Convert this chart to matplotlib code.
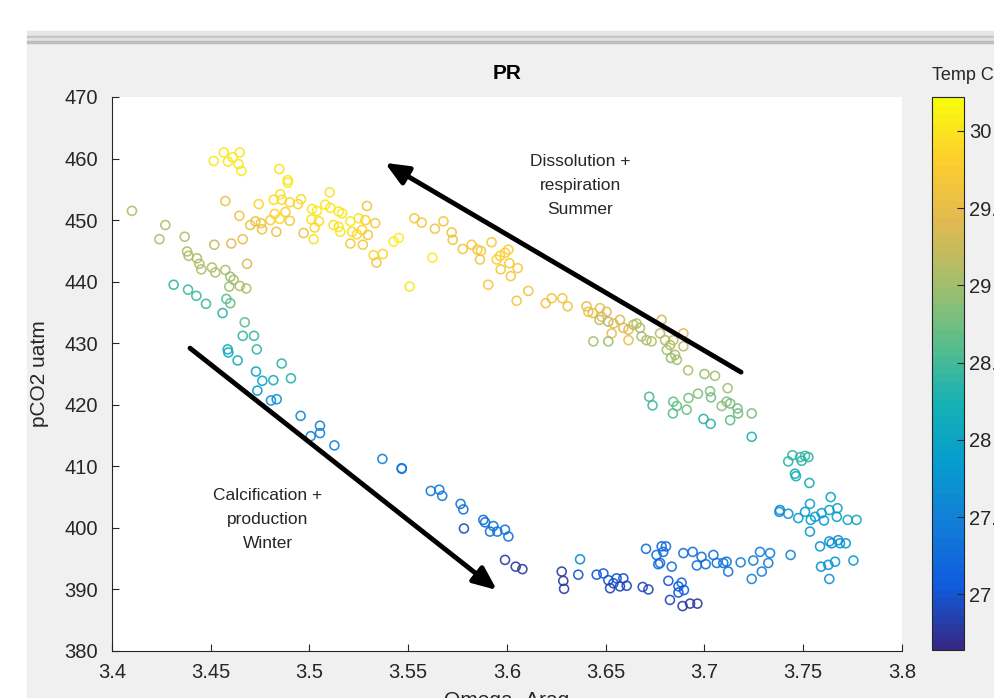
import numpy as np
import matplotlib
matplotlib.use("Agg")
import matplotlib.pyplot as plt
from matplotlib.colors import LinearSegmentedColormap, Normalize
from matplotlib.patches import Rectangle
import matplotlib.cm as cm

plt.rcParams['font.family'] = ['Liberation Sans', 'DejaVu Sans']

# ---- data (Omega-Arag, pCO2 uatm, Temp C) ----
# summer branch, upper left (yellow / orange)
omega_a = [3.4515, 3.4566, 3.4587, 3.4611, 3.4647, 3.4641, 3.4655, 3.4101, 3.4574, 3.4645,
           3.4743, 3.4847, 3.4890, 3.4890, 3.4819, 3.4852, 3.4860, 3.4900, 3.4942, 3.4957,
           3.4878, 3.4824, 3.4849, 3.4802, 3.4700, 3.4726, 3.4754, 3.4760, 3.4832, 3.4900,
           3.4970, 3.5021, 3.5013, 3.5038, 3.5010, 3.5026, 3.5047, 3.5080, 3.5102, 3.5105,
           3.5148, 3.5165, 3.5122, 3.5148, 3.5156, 3.5207, 3.5249, 3.5283, 3.5291, 3.5215,
           3.5240, 3.5266, 3.5296, 3.5333, 3.5207, 3.5270, 3.5325, 3.5371, 3.5339, 3.5426,
           3.5452, 3.5507]
pco2_a = [459.6, 461.0, 459.5, 460.2, 461.0, 459.1, 458.0, 451.5, 453.1, 450.7,
          452.6, 458.3, 456.5, 456.1, 453.3, 454.2, 453.3, 452.9, 452.6, 453.4,
          451.3, 451.0, 450.2, 450.0, 449.2, 449.8, 449.5, 448.5, 448.1, 449.9,
          447.9, 446.9, 451.8, 451.5, 450.1, 448.8, 449.8, 452.5, 454.5, 452.0,
          451.4, 451.1, 449.2, 448.9, 448.1, 449.8, 450.3, 450.0, 452.3, 448.1,
          447.7, 448.4, 447.6, 449.5, 446.2, 446.0, 444.3, 444.5, 443.1, 446.5,
          447.1, 439.2]
temp_a = [30.05, 30.05, 30.0, 30.05, 30.05, 30.0, 30.0, 29.1, 29.6, 29.6,
          29.85, 29.95, 30.0, 30.0, 29.9, 29.95, 29.9, 29.85, 29.85, 29.9,
          29.8, 29.85, 29.9, 29.8, 29.6, 29.6, 29.65, 29.6, 29.6, 29.7,
          29.6, 29.95, 30.0, 30.0, 29.95, 29.85, 29.9, 30.0, 29.95, 30.0,
          30.05, 30.05, 29.95, 30.0, 30.0, 30.0, 30.05, 29.8, 29.65, 29.9,
          29.9, 29.85, 29.7, 29.7, 29.7, 29.7, 29.85, 29.85, 29.65, 30.1,
          30.1, 30.0]

# left edge, olive -> teal -> blue -> purple (winter branch)
omega_b = [3.4270, 3.4240, 3.4368, 3.4518, 3.4604, 3.4662, 3.4684, 3.4380, 3.4388, 3.4430,
           3.4442, 3.4452, 3.4506, 3.4523, 3.4574, 3.4599, 3.4616, 3.4594, 3.4647, 3.4680,
           3.4312, 3.4385, 3.4427, 3.4476, 3.4579, 3.4599, 3.4560, 3.4672, 3.4662, 3.4719,
           3.4733, 3.4586, 3.4589, 3.4636, 3.4859, 3.4729, 3.4761, 3.4817, 3.4906, 3.4736,
           3.4805, 3.4834, 3.4955, 3.5053, 3.5053, 3.5006, 3.5126, 3.5369, 3.5467, 3.5467,
           3.5614, 3.5657, 3.5672, 3.5765, 3.5779, 3.5782, 3.5880, 3.5889, 3.5931, 3.5914,
           3.5951, 3.5990, 3.6007, 3.5990, 3.6044, 3.6078]
pco2_b = [449.2, 446.9, 447.3, 446.0, 446.2, 446.9, 442.9, 444.9, 444.2, 443.8,
          442.9, 442.0, 442.3, 441.5, 441.9, 440.8, 440.3, 439.2, 439.3, 438.9,
          439.5, 438.7, 437.7, 436.4, 437.2, 436.5, 434.9, 433.4, 431.2, 431.2,
          429.0, 429.0, 428.5, 427.2, 426.7, 425.4, 423.9, 424.0, 424.3, 422.3,
          420.7, 420.9, 418.2, 416.6, 415.4, 414.9, 413.4, 411.2, 409.7, 409.6,
          406.0, 406.2, 405.2, 403.9, 403.0, 399.9, 401.3, 400.9, 400.3, 399.4,
          399.4, 399.7, 398.6, 394.8, 393.7, 393.3]
temp_b = [29.1, 29.1, 29.15, 29.2, 29.4, 29.5, 29.35, 29.1, 29.1, 29.1,
          29.05, 29.1, 29.05, 29.05, 29.1, 28.95, 29.0, 28.95, 29.1, 29.1,
          28.4, 28.45, 28.45, 28.45, 28.65, 28.7, 28.35, 28.6, 28.4, 28.4,
          28.4, 28.1, 28.05, 28.1, 28.35, 27.95, 28.0, 28.1, 28.3, 27.8,
          27.7, 27.7, 27.55, 27.5, 27.5, 27.5, 27.5, 27.45, 27.4, 27.4,
          27.4, 27.4, 27.4, 27.35, 27.35, 26.9, 27.3, 27.3, 27.3, 27.3,
          27.35, 27.35, 27.35, 26.8, 26.8, 26.8]

# right descending chain, orange -> olive -> green
omega_c = [3.5531, 3.5568, 3.5635, 3.5678, 3.5720, 3.5725, 3.5622, 3.5776, 3.5821, 3.5850,
           3.5868, 3.5863, 3.5922, 3.5948, 3.5965, 3.5990, 3.6007, 3.5968, 3.6012, 3.6054,
           3.6019, 3.5905, 3.6108, 3.6049, 3.6196, 3.6226, 3.6280, 3.6307, 3.6403, 3.6412,
           3.6434, 3.6471, 3.6479, 3.6504, 3.6468, 3.6513, 3.6539, 3.6572, 3.6589, 3.6615,
           3.6640, 3.6656, 3.6673, 3.6681, 3.6706, 3.6732, 3.6530, 3.6615, 3.6437, 3.6513,
           3.6783, 3.6775, 3.6800, 3.6826, 3.6842, 3.6893, 3.6893, 3.6809, 3.6851, 3.6860,
           3.6830, 3.6917, 3.7000, 3.7053, 3.7117, 3.7112, 3.6720, 3.6737, 3.6842, 3.6860,
           3.6840, 3.6910, 3.6919, 3.6967, 3.7028, 3.7033, 3.6995, 3.7031, 3.7087, 3.7130,
           3.7130, 3.7167, 3.7170, 3.7239, 3.7239]
pco2_c = [450.3, 449.6, 448.6, 449.8, 448.0, 446.8, 443.9, 445.3, 446.0, 445.2,
          445.0, 443.6, 446.4, 443.6, 444.2, 444.7, 445.2, 442.0, 443.0, 442.2,
          440.9, 439.5, 438.5, 436.9, 436.5, 437.3, 437.3, 436.0, 436.0, 435.1,
          434.9, 435.7, 434.3, 435.1, 433.8, 433.5, 433.2, 433.8, 432.5, 432.2,
          433.0, 433.2, 432.5, 431.1, 430.5, 430.3, 431.6, 430.5, 430.3, 430.3,
          433.8, 431.6, 430.5, 429.7, 430.5, 431.6, 429.5, 428.9, 428.1, 427.3,
          427.6, 425.6, 425.0, 424.7, 422.7, 420.5, 421.3, 419.9, 420.5, 419.8,
          418.6, 419.2, 421.1, 421.8, 422.2, 421.2, 417.7, 416.9, 419.8, 420.2,
          417.5, 419.4, 418.6, 418.6, 414.8]
temp_c = [29.7, 29.7, 29.65, 29.7, 29.65, 29.65, 30.1, 29.65, 29.7, 29.7,
          29.7, 29.65, 29.7, 29.8, 29.8, 29.8, 29.8, 29.7, 29.75, 29.7,
          29.7, 29.7, 29.65, 29.65, 29.65, 29.65, 29.65, 29.65, 29.45, 29.5,
          29.5, 29.55, 29.45, 29.4, 29.2, 29.1, 29.45, 29.35, 29.4, 29.4,
          29.2, 29.15, 29.05, 29.0, 29.1, 29.15, 29.5, 29.5, 29.0, 28.95,
          29.35, 29.15, 29.1, 29.1, 29.2, 29.45, 29.15, 29.0, 29.1, 29.1,
          28.9, 29.05, 28.95, 29.0, 29.0, 28.85, 28.5, 28.45, 28.7, 28.7,
          28.65, 28.75, 28.8, 28.85, 28.8, 28.75, 28.35, 28.35, 28.9, 28.8,
          28.6, 28.75, 28.75, 28.8, 28.3]

# right edge, teal -> cyan -> blue -> purple (bottom)
omega_d = [3.7445, 3.7424, 3.7484, 3.7509, 3.7526, 3.7492, 3.7458, 3.7463, 3.7531, 3.7639,
           3.7534, 3.7382, 3.7379, 3.7424, 3.7475, 3.7509, 3.7538, 3.7560, 3.7593, 3.7605,
           3.7632, 3.7673, 3.7670, 3.7725, 3.7770, 3.7534, 3.7585, 3.7632, 3.7644, 3.7677,
           3.7686, 3.7715, 3.7754, 3.7590, 3.7627, 3.7661, 3.7632, 3.7436, 3.7239, 3.7290,
           3.7323, 3.7332, 3.7281, 3.7247, 3.7183, 3.7112, 3.7120, 3.7095, 3.7062, 3.7045,
           3.7006, 3.6961, 3.6985, 3.6940, 3.6893, 3.6834, 3.6817, 3.6868, 3.6884, 3.6896,
           3.6868, 3.6825, 3.6889, 3.6927, 3.6964, 3.6775, 3.6757, 3.6791, 3.6805, 3.6783,
           3.6704, 3.6766, 3.6687, 3.6716, 3.6454, 3.6488, 3.6513, 3.6539, 3.6555, 3.6589,
           3.6572, 3.6606, 3.6522, 3.6361, 3.6370, 3.6277, 3.6285, 3.6289]
pco2_d = [411.8, 410.8, 411.5, 411.7, 411.5, 410.9, 408.8, 408.4, 407.3, 405.0,
          403.9, 402.9, 402.6, 402.3, 401.6, 402.6, 401.3, 401.8, 402.4, 401.2,
          402.9, 403.2, 401.8, 401.3, 401.3, 399.4, 397.0, 397.8, 397.5, 398.0,
          397.5, 397.5, 394.7, 393.7, 394.0, 394.5, 391.7, 395.6, 391.7, 392.9,
          394.3, 395.9, 396.1, 394.7, 394.4, 394.5, 392.9, 394.3, 394.3, 395.6,
          394.1, 393.9, 395.3, 396.1, 395.9, 393.7, 391.4, 390.5, 391.1, 389.9,
          389.5, 388.3, 387.3, 387.7, 387.7, 394.3, 395.6, 396.1, 397.0, 397.0,
          396.6, 394.1, 390.4, 390.0, 392.4, 392.6, 391.5, 391.0, 391.8, 391.8,
          390.5, 390.6, 390.2, 392.4, 394.9, 392.9, 391.4, 390.1]
temp_d = [28.4, 28.35, 28.4, 28.45, 28.4, 28.35, 28.2, 28.2, 28.1, 28.0,
          27.95, 27.6, 27.6, 27.75, 27.85, 27.85, 27.9, 27.9, 27.85, 27.85,
          27.95, 27.95, 27.95, 28.05, 28.05, 27.85, 27.75, 27.7, 27.7, 27.75,
          27.75, 27.8, 27.85, 27.75, 27.75, 27.8, 27.7, 27.5, 27.55, 27.45,
          27.45, 27.45, 27.45, 27.45, 27.45, 27.35, 27.35, 27.35, 27.3, 27.3,
          27.3, 27.3, 27.3, 27.3, 27.3, 27.2, 27.0, 27.1, 27.1, 27.05,
          27.0, 26.9, 26.8, 26.8, 26.8, 27.2, 27.2, 27.25, 27.25, 27.25,
          27.25, 27.2, 26.9, 26.9, 27.0, 27.05, 27.0, 26.95, 27.0, 26.95,
          26.9, 26.9, 26.9, 27.0, 27.6, 26.8, 26.8, 26.8]

omega = np.array(omega_a + omega_b + omega_c + omega_d)
pco2 = np.array(pco2_a + pco2_b + pco2_c + pco2_d)
temp = np.array(temp_a + temp_b + temp_c + temp_d)

t_lim = (26.64, 30.22)
cbar_ticks = [27, 27.5, 28, 28.5, 29, 29.5, 30]

# parula (matlab default) sampled every 7th of its 64 entries
parula_pts = [(0.2081, 0.1663, 0.5292), (0.0591, 0.3598, 0.8683), (0.0723, 0.4887, 0.8467),
              (0.0265, 0.6137, 0.8135), (0.0843, 0.6928, 0.7062), (0.3482, 0.7424, 0.5473),
              (0.6473, 0.7456, 0.4188), (0.8824, 0.7274, 0.3217), (0.9880, 0.8066, 0.1794),
              (0.9763, 0.9831, 0.0538)]
parula = LinearSegmentedColormap.from_list('parula', parula_pts, N=64)
norm = Normalize(*t_lim)

fig = plt.figure(figsize=(9.95, 6.98), dpi=100)
fig.patch.set_facecolor('white')
H = 698.0
W = 995.0
# matlab window frame
fig.patches.append(Rectangle((27/W, 0), 1, (H-42)/H, transform=fig.transFigure,
                             color='#f0f0f0', zorder=-10))
for y0, y1, c in [(31, 36, '#e6e6e6'), (36, 37.5, '#c4c4c4'), (37.5, 40.5, '#e2e2e2'), (40.5, 42.5, '#bdbdbd')]:
    fig.patches.append(Rectangle((27/W, (H-y1)/H), 1, (y1-y0)/H, transform=fig.transFigure,
                                 color=c, zorder=-9))

ax = fig.add_axes([112/W, 47/H, 790/W, 554/H])
ax.set_facecolor('white')
ax.scatter(omega, pco2, s=42, facecolors='none', edgecolors=parula(norm(temp)),
           linewidths=1.15, alpha=0.9)
ax.set_xlim(3.4, 3.8)
ax.set_ylim(380, 470)
ax.set_xticks(np.arange(3.4, 3.81, 0.05))
ax.set_xticklabels(['3.4', '3.45', '3.5', '3.55', '3.6', '3.65', '3.7', '3.75', '3.8'])
ax.set_yticks(np.arange(380, 471, 10))
for s in ['top', 'right']:
    ax.spines[s].set_visible(False)
for s in ['left', 'bottom']:
    ax.spines[s].set_color('#262626')
ax.tick_params(direction='in', length=5, color='#262626', labelsize=14.5, labelcolor='#262626')
ax.tick_params(axis='x', pad=9)
ax.tick_params(axis='y', pad=10)
ax.set_title('PR', fontsize=15, fontweight='bold', pad=13)
ax.set_xlabel('Omega -Arag', fontsize=15, labelpad=6, color='#262626')
ax.set_ylabel('pCO2 uatm', fontsize=15, labelpad=11, color='#262626')

# arrows + notes
ax.annotate('', xy=(3.5382, 459.3), xytext=(3.7185, 425.3),
            arrowprops=dict(arrowstyle='-|>,head_length=1.4,head_width=0.6', lw=3.5, color='black',
                            shrinkA=0, shrinkB=0))
ax.annotate('', xy=(3.5949, 389.9), xytext=(3.4395, 429.2),
            arrowprops=dict(arrowstyle='-|>,head_length=1.4,head_width=0.6', lw=3.5, color='black',
                            shrinkA=0, shrinkB=0))
ax.text(3.637, 455.6, 'Dissolution +\nrespiration\nSummer', ha='center', va='center',
        fontsize=12.5, linespacing=1.75, color='#262626')
ax.text(3.479, 401.3, 'Calcification +\nproduction\nWinter', ha='center', va='center',
        fontsize=12.5, linespacing=1.75, color='#262626')

cax = fig.add_axes([932/W, 48/H, 32/W, 553/H])
sm = cm.ScalarMappable(norm=norm, cmap=parula)
cb = fig.colorbar(sm, cax=cax, ticks=cbar_ticks)
cb.ax.set_yticklabels(['27', '27.5', '28', '28.5', '29', '29.5', '30'])
cb.outline.set_edgecolor('#262626')
cb.ax.tick_params(direction='in', length=5, color='#262626', labelsize=14.5, labelcolor='#262626')
cb.ax.set_title('Temp C', fontsize=13, loc='left', pad=12, color='#262626')

fig.savefig('out.png', dpi=100)
